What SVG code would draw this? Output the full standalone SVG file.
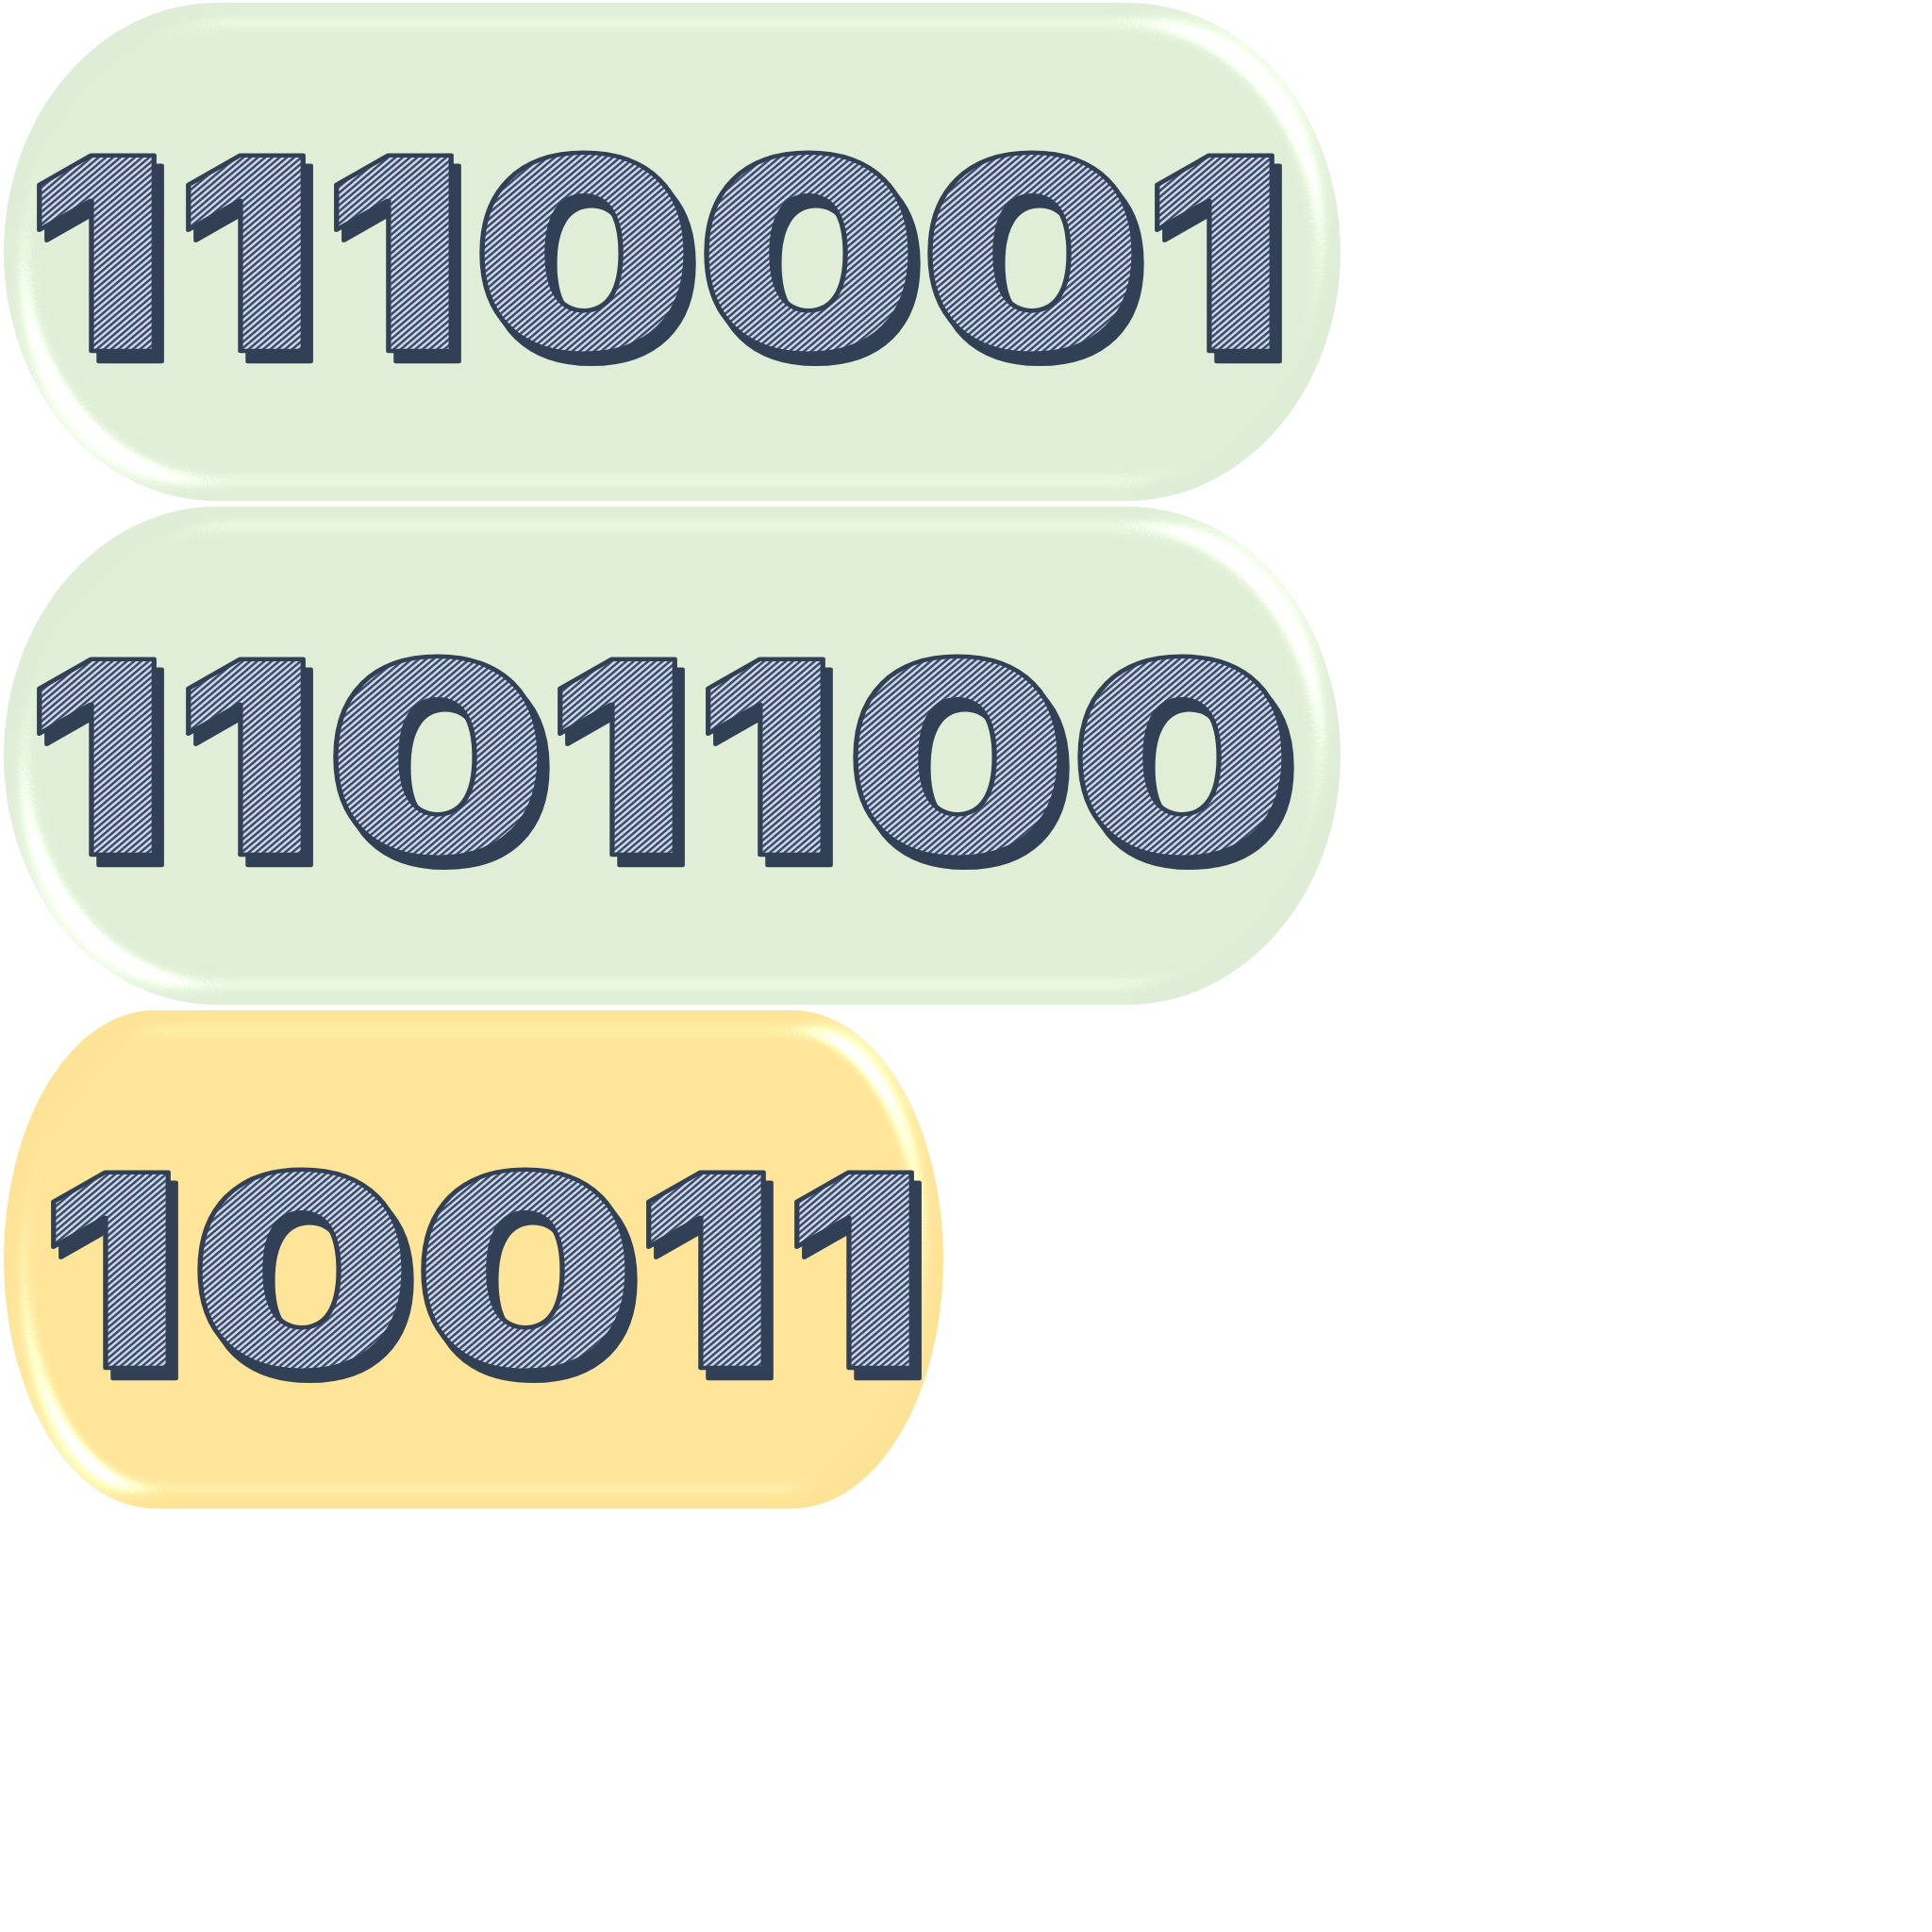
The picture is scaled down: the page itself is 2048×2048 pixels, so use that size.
<svg xmlns="http://www.w3.org/2000/svg" width="2048" height="2048" viewBox="0 0 2048 2048">
<style>
.pill-g{fill:#dfedd6;filter:url(#bevel)}
.pill-y{fill:#fde396;filter:url(#bevel)}
.digits{font-family:Inter,"Noto Sans","DejaVu Sans",sans-serif;font-weight:900;font-size:285px;text-anchor:middle;fill:url(#hatch);stroke:#334155;stroke-width:4.5;stroke-linejoin:round;filter:url(#shadow)}
</style>
<defs>
<pattern id="hatch" patternUnits="userSpaceOnUse" width="4.6" height="4.6" patternTransform="rotate(45)">
<rect width="4.6" height="4.6" fill="#d2d9e8"/>
<rect width="2.4" height="4.6" fill="#3d4e6c"/>
</pattern>
<filter id="shadow" x="-10%" y="-10%" width="130%" height="130%">
<feOffset in="SourceAlpha" dx="7" dy="11" result="o"/>
<feFlood flood-color="#334155"/>
<feComposite in2="o" operator="in" result="sh"/>
<feMerge><feMergeNode in="sh"/><feMergeNode in="SourceGraphic"/></feMerge>
</filter>
<filter id="bevel" x="-5%" y="-5%" width="110%" height="110%">
<feGaussianBlur in="SourceAlpha" stdDeviation="15" result="b"/>
<feSpecularLighting in="b" surfaceScale="20" specularConstant="1.2" specularExponent="36" lighting-color="#ffffff" result="s1">
<feDistantLight azimuth="-45" elevation="30"/>
</feSpecularLighting>
<feSpecularLighting in="b" surfaceScale="20" specularConstant="1.2" specularExponent="36" lighting-color="#ffffff" result="s2">
<feDistantLight azimuth="135" elevation="30"/>
</feSpecularLighting>
<feComposite in="s1" in2="s2" operator="arithmetic" k2="1" k3="1" result="s"/>
<feComposite in="s" in2="SourceAlpha" operator="in" result="sc"/>
<feComposite in="SourceGraphic" in2="sc" operator="arithmetic" k2="1" k3="0.8"/>
</filter>
</defs>
<g id="connectors"/>
<g id="node1">
<rect class="pill-g" x="4" y="3" width="1417" height="528" rx="226" ry="264"/>
<text class="digits" transform="scale(1.18,1)" x="87.3 221.2 354.2 524.6 726.3 927.1 1091.5" y="372">1110001</text>
</g>
<g id="node2">
<rect class="pill-g" x="4" y="537" width="1417" height="528" rx="226" ry="264"/>
<text class="digits" transform="scale(1.18,1)" x="87.3 221.2 393.2 555.1 688.1 860.2 1061.9" y="906">1101100</text>
</g>
<g id="node3">
<rect class="pill-y" x="4" y="1071" width="996" height="528" rx="160" ry="264"/>
<text class="digits" transform="scale(1.18,1)" x="100 271.2 472 634.7 767.8" y="1450">10011</text>
</g>
</svg>
